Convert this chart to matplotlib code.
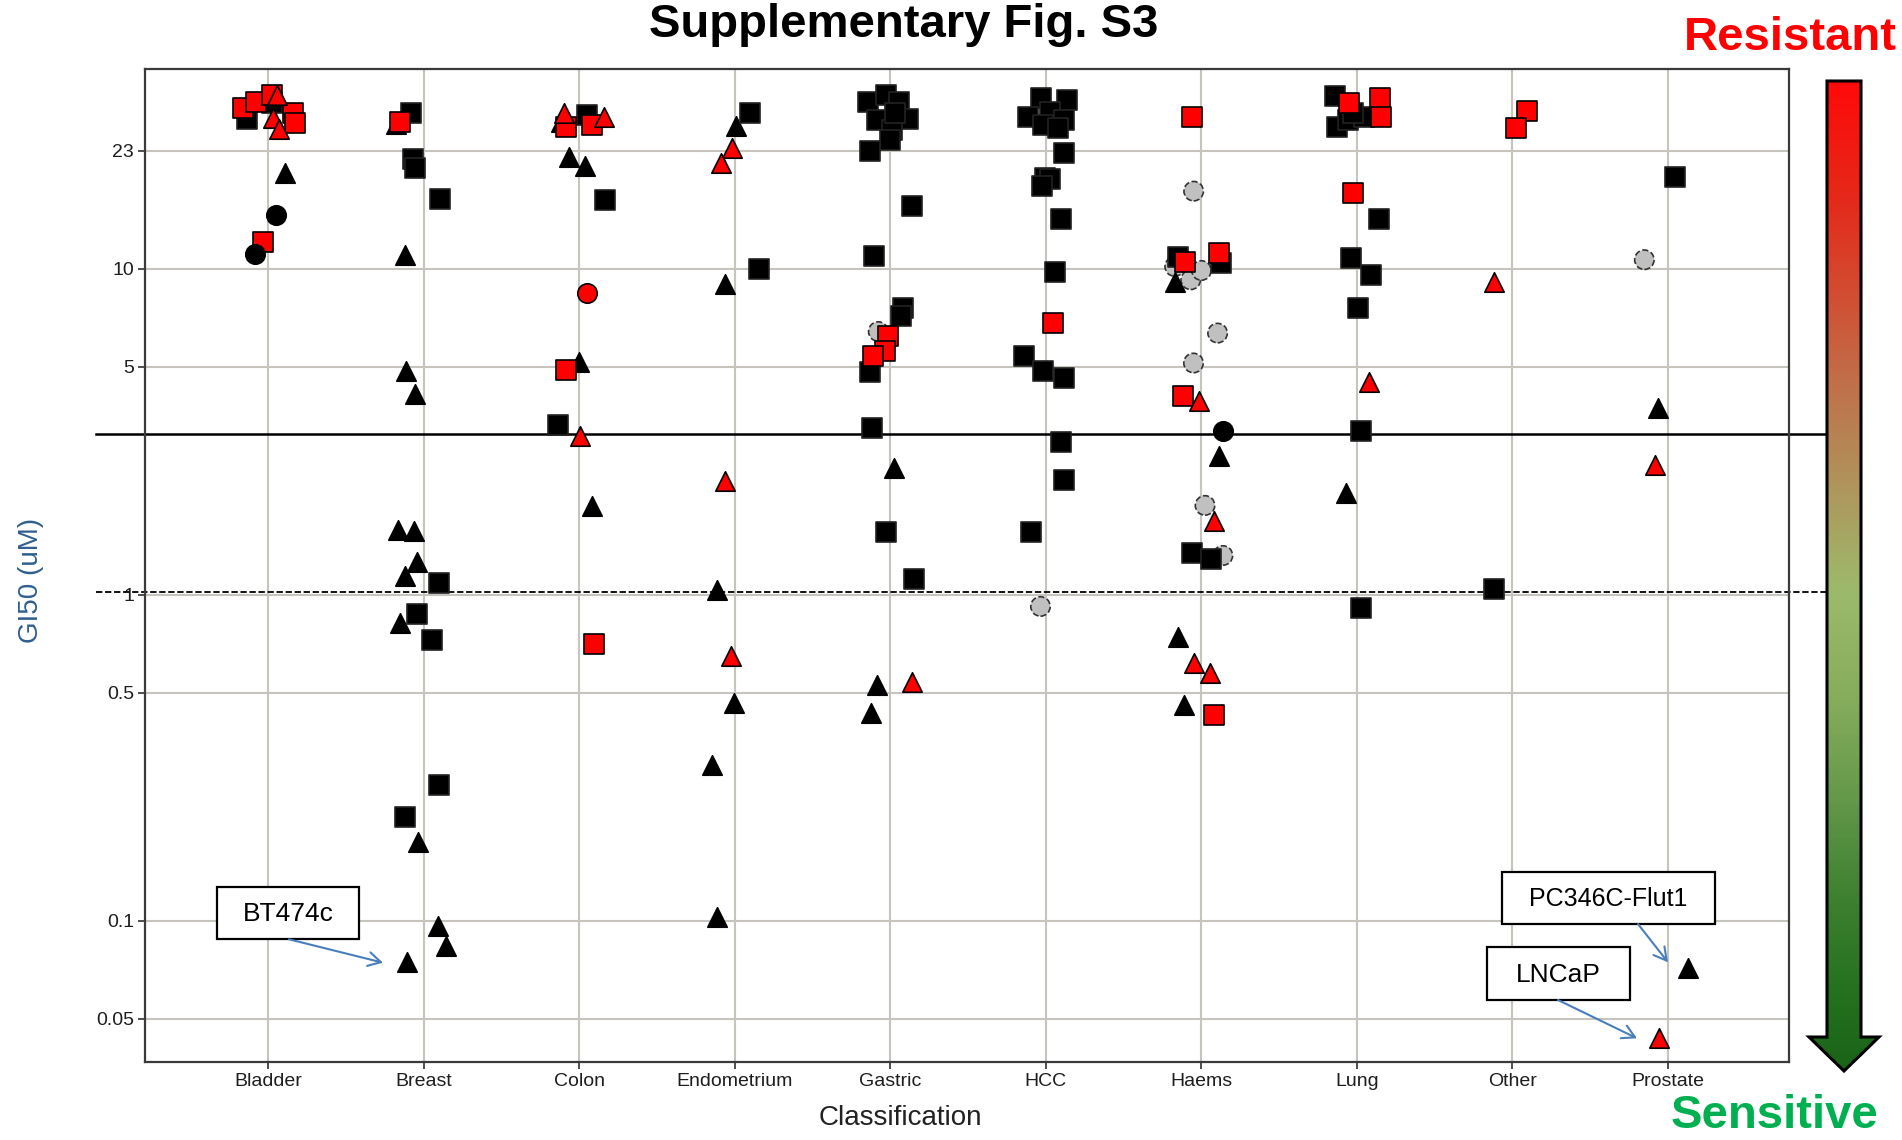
import numpy as np
import matplotlib
matplotlib.use("Agg")
import matplotlib.pyplot as plt
from matplotlib import transforms
from matplotlib.colors import LinearSegmentedColormap
from matplotlib.patches import Polygon, Rectangle, FancyArrowPatch

# GI50 (uM) per cell line, grouped by marker type.
# each entry: (classification, horizontal jitter from category centre, GI50)
categories = ["Bladder", "Breast", "Colon", "Endometrium", "Gastric",
              "HCC", "Haems", "Lung", "Other", "Prostate"]

black_squares = [
    ("Bladder", -0.139, 28.9), ("Bladder", 0.022, 32.3),
    ("Breast", -0.081, 30.0), ("Breast", -0.068, 21.7), ("Breast", -0.057, 20.4),
    ("Breast", 0.107, 16.4), ("Breast", 0.097, 1.09), ("Breast", -0.046, 0.873),
    ("Breast", 0.050, 0.728), ("Breast", 0.097, 0.261), ("Breast", -0.118, 0.208),
    ("Colon", 0.050, 29.6), ("Colon", 0.167, 16.2), ("Colon", -0.135, 3.32),
    ("Endometrium", 0.095, 30.0), ("Endometrium", 0.152, 9.98),
    ("Gastric", -0.147, 32.4), ("Gastric", -0.026, 34.2), ("Gastric", 0.055, 32.4),
    ("Gastric", 0.112, 28.8), ("Gastric", -0.083, 28.6), ("Gastric", 0.009, 26.7),
    ("Gastric", -0.003, 24.9), ("Gastric", -0.129, 22.9), ("Gastric", 0.032, 30.0),
    ("Gastric", 0.140, 15.6), ("Gastric", -0.106, 10.96), ("Gastric", 0.078, 7.57),
    ("Gastric", 0.066, 7.14), ("Gastric", -0.129, 4.84), ("Gastric", -0.118, 3.24),
    ("Gastric", -0.026, 1.56), ("Gastric", 0.154, 1.12),
    ("HCC", -0.029, 33.5), ("HCC", 0.138, 33.0), ("HCC", -0.113, 29.3),
    ("HCC", 0.029, 30.3), ("HCC", 0.119, 28.6), ("HCC", -0.016, 27.7),
    ("HCC", 0.080, 27.1), ("HCC", 0.119, 22.6), ("HCC", -0.006, 19.0),
    ("HCC", 0.029, 18.8), ("HCC", -0.023, 17.9), ("HCC", 0.098, 14.2),
    ("HCC", 0.059, 9.75), ("HCC", -0.143, 5.41), ("HCC", -0.022, 4.87),
    ("HCC", 0.116, 4.64), ("HCC", 0.098, 2.95), ("HCC", 0.116, 2.25),
    ("HCC", -0.093, 1.56),
    ("Haems", -0.149, 10.9), ("Haems", 0.126, 10.4), ("Haems", -0.062, 1.34),
    ("Haems", 0.064, 1.29),
    ("Lung", -0.141, 33.8), ("Lung", -0.129, 27.3), ("Lung", -0.060, 28.6),
    ("Lung", 0.043, 29.3), ("Lung", -0.026, 30.0), ("Lung", 0.141, 14.2),
    ("Lung", -0.037, 10.8), ("Lung", 0.093, 9.59), ("Lung", 0.008, 7.57),
    ("Lung", 0.024, 3.17), ("Lung", 0.024, 0.910),
    ("Other", -0.118, 1.045),
    ("Prostate", 0.047, 19.1),
]

red_squares = [
    ("Bladder", -0.163, 31.2), ("Bladder", -0.081, 32.5), ("Bladder", 0.024, 34.2),
    ("Bladder", 0.157, 30.1), ("Bladder", 0.172, 28.0), ("Bladder", -0.032, 12.1),
    ("Breast", -0.154, 28.1),
    ("Colon", -0.084, 27.3), ("Colon", 0.082, 27.7), ("Colon", -0.084, 4.88),
    ("Colon", 0.095, 0.708),
    ("Gastric", -0.014, 6.23), ("Gastric", -0.037, 5.61), ("Gastric", -0.111, 5.41),
    ("HCC", 0.048, 6.84),
    ("Haems", -0.062, 29.2), ("Haems", -0.104, 10.5), ("Haems", 0.114, 11.2),
    ("Haems", -0.120, 4.08), ("Haems", 0.080, 0.429),
    ("Lung", -0.049, 32.2), ("Lung", 0.147, 33.4), ("Lung", 0.157, 29.3),
    ("Lung", -0.026, 17.1),
    ("Other", 0.095, 30.4), ("Other", 0.021, 27.0),
]

black_triangles = [
    ("Bladder", 0.107, 19.7),
    ("Breast", -0.180, 27.8), ("Breast", -0.118, 11.0), ("Breast", -0.113, 4.86),
    ("Breast", -0.058, 4.14), ("Breast", -0.167, 1.58), ("Breast", -0.062, 1.57),
    ("Breast", -0.046, 1.26), ("Breast", -0.120, 1.14), ("Breast", -0.155, 0.822),
    ("Breast", -0.038, 0.175), ("Breast", 0.094, 0.0962), ("Breast", 0.140, 0.0839),
    ("Breast", -0.109, 0.0747),
    ("Colon", -0.116, 28.2), ("Colon", -0.064, 22.1), ("Colon", 0.034, 20.7),
    ("Colon", -0.005, 5.16), ("Colon", 0.080, 1.87),
    ("Endometrium", 0.008, 27.5), ("Endometrium", -0.062, 8.99),
    ("Endometrium", -0.112, 1.035), ("Endometrium", -0.003, 0.466),
    ("Endometrium", -0.147, 0.301), ("Endometrium", -0.112, 0.103),
    ("Gastric", 0.020, 2.45), ("Gastric", -0.087, 0.530), ("Gastric", -0.122, 0.434),
    ("Haems", -0.172, 9.14), ("Haems", 0.114, 2.66), ("Haems", -0.149, 0.742),
    ("Haems", -0.111, 0.460),
    ("Lung", -0.072, 2.05),
    ("Prostate", -0.062, 3.74), ("Prostate", 0.131, 0.0716),
]

red_triangles = [
    ("Bladder", 0.056, 34.2), ("Bladder", 0.030, 29.1), ("Bladder", 0.069, 26.9),
    ("Colon", -0.101, 30.0), ("Colon", 0.161, 29.3), ("Colon", 0.003, 3.06),
    ("Endometrium", -0.021, 23.5), ("Endometrium", -0.087, 21.1),
    ("Endometrium", -0.064, 2.23), ("Endometrium", -0.026, 0.647),
    ("Gastric", 0.140, 0.542),
    ("Haems", -0.016, 3.92), ("Haems", 0.080, 1.68), ("Haems", -0.046, 0.617),
    ("Haems", 0.053, 0.575),
    ("Lung", 0.077, 4.51),
    ("Other", -0.120, 9.14),
    ("Prostate", -0.084, 2.51), ("Prostate", -0.058, 0.0437),
]

black_circles = [("Bladder", 0.050, 14.6), ("Bladder", -0.086, 11.1), ("Haems", 0.138, 3.19)]
red_circles = [("Colon", 0.047, 8.44)]
grey_circles = [
    ("Gastric", -0.078, 6.42), ("HCC", -0.035, 0.921),
    ("Haems", -0.050, 17.3), ("Haems", -0.172, 10.16), ("Haems", -0.069, 9.25),
    ("Haems", 0.0, 9.88), ("Haems", 0.104, 6.35), ("Haems", -0.051, 5.14),
    ("Haems", 0.023, 1.88), ("Haems", 0.138, 1.32),
    ("Prostate", -0.152, 10.66),
]

yticks = [0.05, 0.1, 0.5, 1, 5, 10, 23]
ytick_labels = ["0.05", "0.1", "0.5", "1", "5", "10", "23"]
resistant_cut = 3.12   # solid line
sensitive_cut = 1.02   # dashed line

W, H = 1902, 1140
fig = plt.figure(figsize=(W / 100, H / 100), dpi=100)
ax = fig.add_axes([145 / W, 1 - 1062 / H, (1789 - 145) / W, (1062 - 69) / H])

pos = {c: i + 1 for i, c in enumerate(categories)}


def xy(points):
    return ([pos[c] + j for c, j, v in points], [v for c, j, v in points])


ms = 14 ** 2
series = [
    (grey_circles, "o", "#C0C0C0", "#333333", "--"),
    (black_triangles, "^", "black", "black", "-"),
    (black_squares, "s", "black", "#222222", "-"),
    (red_squares, "s", "#FF0000", "black", "-"),
    (red_triangles, "^", "#FF0000", "black", "-"),
    (black_circles, "o", "black", "black", "-"),
    (red_circles, "o", "#FF0000", "black", "-"),
]
for pts, mk, fc, ec, ls in series:
    x, y = xy(pts)
    ax.scatter(x, y, s=ms, marker=mk, facecolor=fc, edgecolor=ec,
               linewidths=1.2, linestyles=ls, zorder=3)

ax.set_yscale("log")
ax.set_ylim(0.0369, 41.0)
ax.set_xlim(0.207, 10.778)
ax.set_yticks(yticks)
ax.set_yticklabels(ytick_labels)
ax.minorticks_off()
ax.set_xticks(range(1, len(categories) + 1))
ax.set_xticklabels(categories)

for lab in ax.get_xticklabels() + ax.get_yticklabels():
    lab.set_fontfamily("Liberation Sans")
    lab.set_fontsize(14)
    lab.set_color("#1e1e1e")
ax.tick_params(direction="out", length=5, width=1.3, color="#404040", pad=3)

ax.grid(True, color="#C6C4BC", lw=1.5)
ax.set_axisbelow(True)
for sp in ax.spines.values():
    sp.set_color("#3a3a3a")
    sp.set_linewidth(1.6)

# threshold lines run past the axes up to the gradient arrow
tr = transforms.blended_transform_factory(fig.transFigure, ax.transData)
ax.plot([96 / W, 1827 / W], [resistant_cut] * 2, transform=tr, clip_on=False,
        color="black", lw=1.8, zorder=2)
ax.plot([96 / W, 1827 / W], [sensitive_cut] * 2, transform=tr, clip_on=False,
        color="black", lw=1.3, ls=(0, (3.5, 1.5)), zorder=2)

fig.text(904 / W, 1 - 37 / H, "Supplementary Fig. S3", ha="center", va="baseline",
         fontsize=34, fontweight="bold", family="Liberation Sans")
fig.text(1790 / W, 1 - 50 / H, "Resistant", ha="center", va="baseline",
         fontsize=34, fontweight="bold", color="#FF0000", family="Liberation Sans")
fig.text(1775 / W, 1 - 1128 / H, "Sensitive", ha="center", va="baseline",
         fontsize=34, fontweight="bold", color="#00B050", family="Liberation Sans")
fig.text(31 / W, 1 - 580 / H, "GI50 (uM)", rotation=90, ha="center", va="center",
         fontsize=20, color="#2F5F8F", family="Liberation Sans")
fig.text(900 / W, 1 - 1118 / H, "Classification", ha="center", va="center",
         fontsize=20, color="#222222", family="Liberation Sans")

# overlay in pixel units for the gradient arrow and label boxes
ov = fig.add_axes([0, 0, 1, 1], zorder=5)
ov.axis("off")

arrow_cmap = LinearSegmentedColormap.from_list("resist", [
    (0.0, "#FF0A0A"), (0.12, "#E42A1A"), (0.305, "#C0704A"), (0.424, "#AD9A5E"),
    (0.515, "#9CBA6C"), (0.626, "#85AD5C"), (0.727, "#64984A"), (0.828, "#3D8030"),
    (0.929, "#23701E"), (1.0, "#1A6418")])
grad = np.linspace(0, 1, 600).reshape(-1, 1)
im = ov.imshow(grad, cmap=arrow_cmap, aspect="auto", origin="upper",
               extent=[1809, 1880, 1071, 81], interpolation="bilinear")
arrow = Polygon([(1827, 81), (1861, 81), (1861, 1037), (1879, 1037),
                 (1844, 1071), (1809, 1037), (1827, 1037)],
                closed=True, facecolor="none", edgecolor="black", lw=2.2)
ov.add_patch(arrow)
im.set_clip_path(arrow)

boxes = [
    ("BT474c", (216.5, 887.3, 359.4, 939.3), 19, (289, 939.3), (383, 962.7)),
    ("PC346C-Flut1", (1501.7, 871.7, 1715, 924), 18, (1638, 924), (1668, 962.3)),
    ("LNCaP", (1486.7, 947.3, 1630, 1000), 19, (1558, 1000), (1637, 1038.3)),
]
for label, (x0, y0, x1, y1), fs, start, tip in boxes:
    ov.add_patch(Rectangle((x0, y0), x1 - x0, y1 - y0, facecolor="white",
                           edgecolor="black", lw=1.6))
    ov.text((x0 + x1) / 2, (y0 + y1) / 2 + 1, label, ha="center", va="center",
            fontsize=fs, family="Liberation Sans")
    ov.add_patch(FancyArrowPatch(start, tip,
                                 arrowstyle="->,head_length=9,head_width=5",
                                 color="#4A7EBB", lw=1.5, shrinkA=0, shrinkB=0))

ov.set_xlim(0, W)
ov.set_ylim(H, 0)

plt.savefig("out.png", dpi=100)
